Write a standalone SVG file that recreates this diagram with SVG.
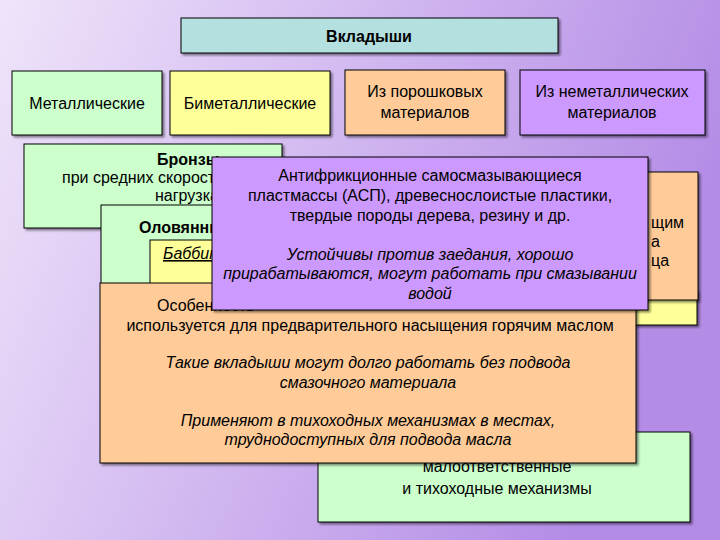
<svg xmlns="http://www.w3.org/2000/svg" width="720" height="540" viewBox="0 0 720 540">
<defs>
<linearGradient id="bg" x1="0" y1="0" x2="1" y2="0.3"><stop offset="0" stop-color="#efe4fa"/><stop offset="1" stop-color="#b48ce6"/></linearGradient>
<filter id="sh" x="-5%" y="-5%" width="115%" height="115%"><feDropShadow dx="2" dy="2" stdDeviation="1" flood-color="#000" flood-opacity="0.45"/></filter>
</defs>
<style>
rect.b{stroke:#000;stroke-width:1;filter:url(#sh)}
.g{fill:#ccffcc}.y{fill:#ffff99}.o{fill:#ffcc99}.p{fill:#cc99ff}.c{fill:#b4e0e0}
text{font-family:"Liberation Sans",Arial,sans-serif;font-size:16px;fill:#000}
.m{text-anchor:middle}.bd{font-weight:bold}.it{font-style:italic}
</style>
<rect width="720" height="540" fill="url(#bg)"/>
<g id="title"><rect class="b c" x="181" y="18" width="377" height="35"/><text class="m bd" x="369" y="42" style="font-size:16px">Вкладыши</text></g>
<g id="metal"><rect class="b g" x="12" y="71" width="150" height="64"/><text class="m" x="87" y="109">Металлические</text></g>
<g id="bimetal"><rect class="b y" x="170" y="71" width="160" height="64"/><text class="m" x="250" y="109">Биметаллические</text></g>
<g id="powder"><rect class="b o" x="345" y="70" width="160" height="65"/><text class="m" x="425" y="97">Из порошковых</text><text class="m" x="425" y="118">материалов</text></g>
<g id="nonmetal"><rect class="b p" x="520" y="70" width="185" height="65"/><text class="m" x="612" y="97">Из неметаллических</text><text class="m" x="612" y="118">материалов</text></g>
<g id="yellowRight"><rect class="b y" x="600" y="290" width="97" height="35"/></g>
<g id="orangeRight"><rect class="b o" x="493" y="172" width="205" height="128"/><text x="651" y="228">щим</text><text x="651" y="247">а</text><text x="651" y="266">ца</text></g>
<g id="bronze"><rect class="b g" x="24" y="144" width="258" height="84"/><text class="bd" x="157" y="165">Бронзы</text><text x="62" y="183">при средних скоростях и</text><text x="155" y="201">нагрузках</text></g>
<g id="tin"><rect class="b g" x="101" y="205" width="200" height="80"/><text class="bd" x="139" y="233">Оловянные</text><rect x="150" y="240" width="140" height="45" fill="#ffff99" stroke="#000"/><text class="it" x="163" y="259" text-decoration="underline">Баббиты</text></g>
<g id="greenBottom"><rect class="b g" x="318" y="432" width="372" height="90"/><text class="m" x="497" y="472">малоответственные</text><text class="m" x="497" y="494">и тихоходные механизмы</text></g>
<g id="orangeBig"><rect class="b o" x="100" y="283" width="536" height="180"/>
<text x="157" y="311">Особенность</text>
<text class="m" x="370" y="331">используется для предварительного  насыщения горячим маслом</text>
<text class="m it" x="368" y="368">Такие вкладыши могут долго работать без подвода</text>
<text class="m it" x="368" y="388">смазочного материала</text>
<text class="m it" x="368" y="426">Применяют в тихоходных механизмах в местах,</text>
<text class="m it" x="368" y="445">труднодоступных для подвода масла</text></g>
<g id="purple"><rect class="b p" x="212" y="157" width="436" height="153"/>
<text class="m" x="430" y="181">Антифрикционные самосмазывающиеся</text>
<text class="m" x="430" y="201">пластмассы (АСП), древеснослоистые пластики,</text>
<text class="m" x="430" y="221">твердые породы дерева, резину и др.</text>
<text class="m it" x="430" y="260">Устойчивы против заедания, хорошо</text>
<text class="m it" x="430" y="279">прирабатываются, могут работать при смазывании</text>
<text class="m it" x="430" y="299">водой</text></g>
<g id="connectors"/>
</svg>
